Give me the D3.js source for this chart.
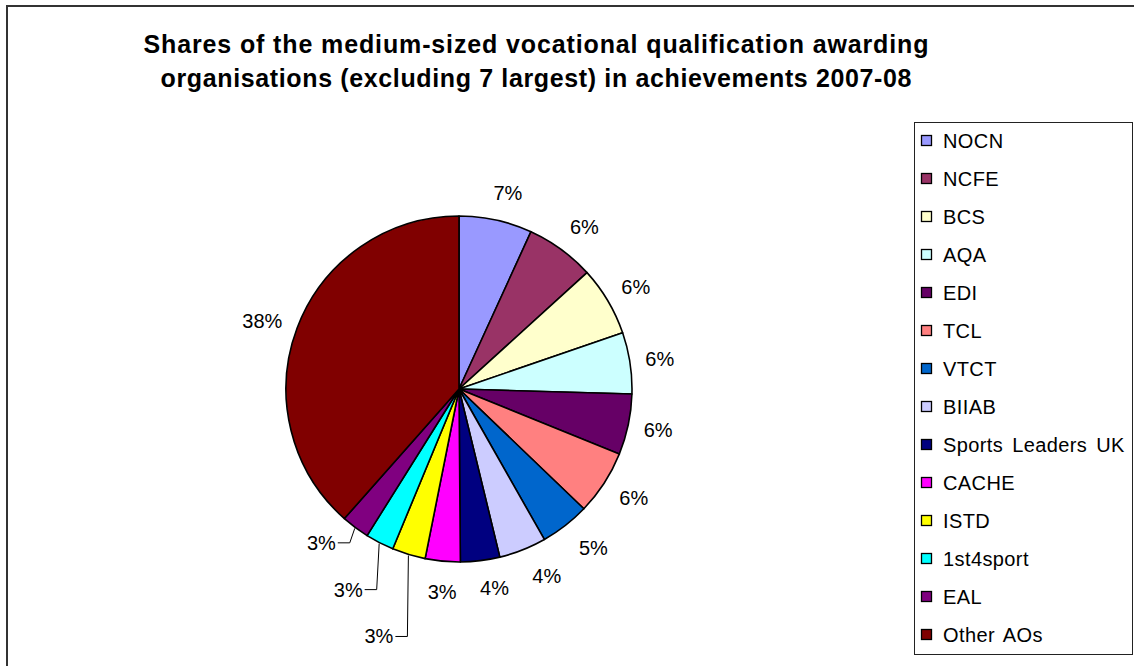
<!DOCTYPE html>
<html>
<head>
<meta charset="utf-8">
<script src="https://cdn.jsdelivr.net/npm/d3@7"></script>
<style>
  html, body { margin: 0; padding: 0; background: #fff; }
  svg { display: block; font-family: "Liberation Sans", Arial, sans-serif; }
</style>
</head>
<body>
<svg id="chart" width="1134" height="666"></svg>
<script>
// ---- data ----
const categories = ["NOCN", "NCFE", "BCS", "AQA", "EDI", "TCL", "VTCT", "BIIAB",
  "Sports Leaders UK", "CACHE", "ISTD", "1st4sport", "EAL", "Other AOs"];
const shares = [6.8, 6.4, 6.45, 5.7, 5.65, 6.0, 4.6, 4.4, 3.65, 3.25, 3.1, 2.65, 2.6, 38.3];
const colors = ["#9999FF", "#993366", "#FFFFCC", "#CCFFFF", "#660066", "#FF8080", "#0066CC",
  "#CCCCFF", "#000080", "#FF00FF", "#FFFF00", "#00FFFF", "#800080", "#800000"];
const titleLines = ["Shares of the medium-sized vocational qualification awarding",
  "organisations (excluding 7 largest) in achievements 2007-08"];
// labels moved off the pie with leader lines (layout: horizontal shift, vertical drop)
const leaderLabels = { "ISTD": [-1, 81], "1st4sport": [-2.5, 46], "EAL": [-5, 14.5] };

// ---- layout ----
const svg = d3.select("#chart");
const cx = 459, cy = 389, R = 173, anchorR = 187;

// outer chart border (cut off at right/bottom)
svg.append("rect").attr("x", 7).attr("y", 6).attr("width", 1300).attr("height", 900)
  .attr("fill", "none").attr("stroke", "#333").attr("stroke-width", 2);

// title
const titleWidths = [785, 751];
svg.selectAll("text.title").data(titleLines).join("text")
  .attr("class", "title")
  .attr("x", 536).attr("y", (d, i) => 53 + i * 34)
  .attr("text-anchor", "middle")
  .attr("font-size", 25).attr("font-weight", "bold").attr("fill", "#000")
  .attr("textLength", (d, i) => titleWidths[i]).attr("lengthAdjust", "spacing")
  .text(d => d);

const data = categories.map((c, i) => ({ name: c, value: shares[i], color: colors[i] }));
const total = d3.sum(shares);
const pie = d3.pie().value(d => d.value).sort(null);
const arcs = pie(data);
const arc = d3.arc().innerRadius(0).outerRadius(R);

const g = svg.append("g").attr("transform", `translate(${cx},${cy})`);
g.selectAll("path").data(arcs).join("path")
  .attr("d", arc)
  .attr("fill", d => d.data.color)
  .attr("stroke", "#000").attr("stroke-width", 1.6).attr("stroke-linejoin", "round");

const pct = d => Math.round(d.data.value / total * 100) + "%";
const mid = d => (d.startAngle + d.endAngle) / 2;

arcs.forEach(d => {
  const a = mid(d);
  const lead = leaderLabels[d.data.name];
  if (!lead) {
    // label box sits just outside the rim (box half-size offset)
    const s = Math.sin(a), c = Math.cos(a);
    const hw = s >= 0 ? 16 : 22;
    const x = anchorR * s + hw * Math.tanh(3 * s) + 7 * Math.pow(Math.max(0, -c), 2);
    const y = -anchorR * c - 14 * c + (s < 0 ? 3 : 0);
    g.append("text")
      .attr("x", x).attr("y", y)
      .attr("dy", "0.35em").attr("text-anchor", "middle")
      .attr("font-size", 20).attr("fill", "#000")
      .text(pct(d));
  } else {
    const px = (R + 1) * Math.sin(a), py = -(R + 1) * Math.cos(a);
    const ex = px + lead[0], ey = py + lead[1];
    g.append("path")
      .attr("d", `M${px},${py}L${ex},${ey}L${ex - 12},${ey}`)
      .attr("fill", "none").attr("stroke", "#000").attr("stroke-width", 1);
    g.append("text")
      .attr("x", ex - 14).attr("y", ey)
      .attr("dy", "0.35em").attr("text-anchor", "end")
      .attr("font-size", 20).attr("fill", "#000")
      .text(pct(d));
  }
});

// legend
const lx = 914, ly = 122, lw = 218, lh = 532;
svg.append("rect").attr("x", lx + 0.5).attr("y", ly + 0.5).attr("width", lw).attr("height", lh)
  .attr("fill", "#fff").attr("stroke", "#222").attr("stroke-width", 1);
const rowY = d3.scalePoint().domain(categories).range([141, 635]);
const lg = svg.append("g").selectAll("g").data(data).join("g")
  .attr("transform", d => `translate(0,${rowY(d.name)})`);
lg.append("rect").attr("x", 921.5).attr("y", -5.5).attr("width", 10).attr("height", 10)
  .attr("fill", d => d.color).attr("stroke", "#000").attr("stroke-width", 1.3);
lg.append("text").attr("x", 943).attr("y", 0).attr("dy", "0.35em")
  .attr("font-size", 20).attr("letter-spacing", 0.4).attr("word-spacing", 3).attr("fill", "#000")
  .text(d => d.name);
</script>
</body>
</html>
